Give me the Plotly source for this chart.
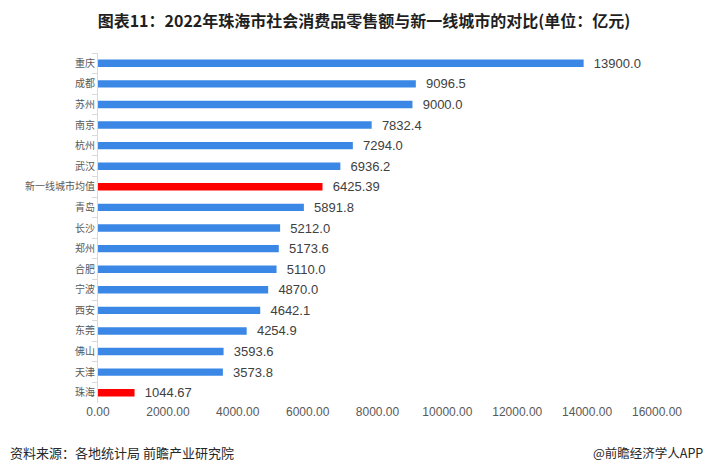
import plotly.graph_objects as go

cities = ["重庆", "成都", "苏州", "南京", "杭州", "武汉", "新一线城市均值", "青岛", "长沙", "郑州",
          "合肥", "宁波", "西安", "东莞", "佛山", "天津", "珠海"]
values = [13900.0, 9096.5, 9000.0, 7832.4, 7294.0, 6936.2, 6425.39, 5891.8, 5212.0, 5173.6,
          5110.0, 4870.0, 4642.1, 4254.9, 3593.6, 3573.8, 1044.67]
labels = ["13900.0", "9096.5", "9000.0", "7832.4", "7294.0", "6936.2", "6425.39", "5891.8", "5212.0",
          "5173.6", "5110.0", "4870.0", "4642.1", "4254.9", "3593.6", "3573.8", "1044.67"]
highlight = ["新一线城市均值", "珠海"]
x_ticks = [0, 2000, 4000, 6000, 8000, 10000, 12000, 14000, 16000]

colors = ["#FF0000" if c in highlight else "#3A87E6" for c in cities]
font = "Noto Sans CJK SC"

# page body has an 8px margin, so the figure is sized/positioned to compensate
W, H = 707, 458
L, R, T, B = 90, 58, 45, 63
pw, ph = W - L - R, H - T - B

fig = go.Figure(go.Bar(
    y=cities, x=values, orientation="h",
    marker=dict(color=colors, line=dict(width=0)),
    width=0.36,
    text=["\u00a0\u00a0" + t for t in labels],
    textposition="outside",
    constraintext="none",
    textfont=dict(size=13, color="#404040", family="Liberation Sans"),
    cliponaxis=False,
))

fig.update_layout(
    width=W, height=H,
    margin=dict(l=L, r=R, t=T, b=B, autoexpand=False),
    paper_bgcolor="white", plot_bgcolor="white",
    showlegend=False,
    title=dict(text="<b>图表11：2022年珠海市社会消费品零售额与新一线城市的对比(单位：亿元)</b>",
               x=(364 - 8) / W, xanchor="center", y=1 - 13 / H, yanchor="middle",
               font=dict(size=16, color="#1F1F1F", family=font)),
    font=dict(family=font),
)
fig.update_xaxes(range=[-1, 16000], tickvals=x_ticks, automargin=False,
                 ticktext=[f"{v:.2f}" for v in x_ticks], ticklabeloverflow="allow",
                 showgrid=False, zeroline=False, showline=False,
                 tickfont=dict(size=12, color="#595959", family="Liberation Sans"), ticks="")
fig.update_yaxes(autorange="reversed", showgrid=False, showline=True, linecolor="#D9D9D9",
                 automargin=False,
                 ticks="outside", ticklen=5, tickcolor="#D9D9D9", tickson="boundaries",
                 tickfont=dict(size=10, color="#595959", family=font))

fig.add_annotation(text="资料来源：各地统计局 前瞻产业研究院", xref="paper", yref="paper",
                   x=-L / pw, y=-(444 - (H - B)) / ph, xanchor="left", yanchor="middle", showarrow=False,
                   font=dict(size=13, color="#262626", family=font))
fig.add_annotation(text="@前瞻经济学人APP", xref="paper", yref="paper",
                   x=(697 - L) / pw, y=-(444 - (H - B)) / ph, xanchor="right", yanchor="middle", showarrow=False,
                   font=dict(size=12.5, color="#262626", family=font))

fig.write_html("out.html")
